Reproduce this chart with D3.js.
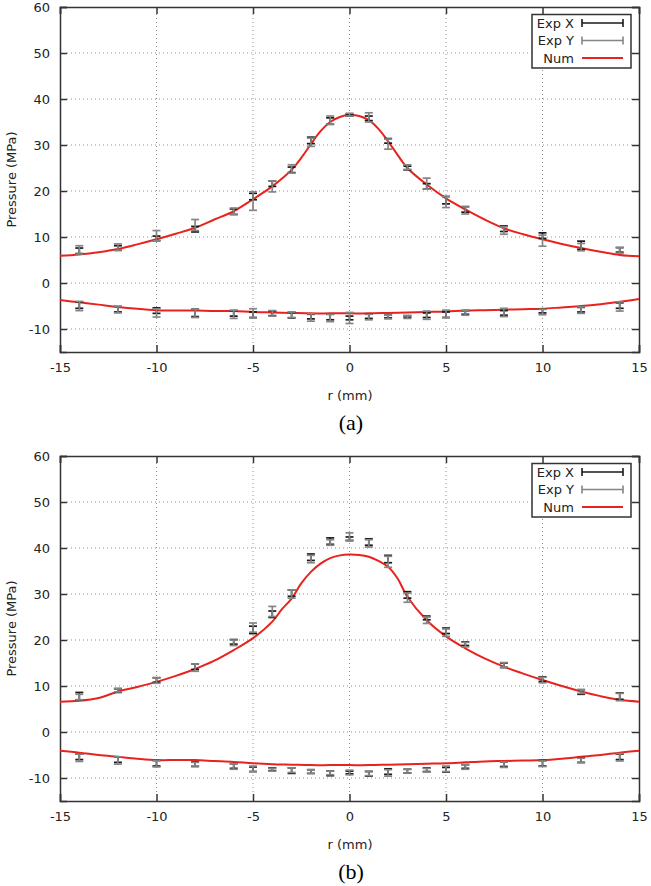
<!DOCTYPE html>
<html>
<head>
<meta charset="utf-8">
<script src="https://cdn.jsdelivr.net/npm/d3@7"></script>
<style>
  html, body { margin: 0; padding: 0; background: #fff; }
  svg { display: block; }
  text { font-family: "DejaVu Sans", sans-serif; }
</style>
</head>
<body>
<svg id="chart" width="651" height="886"></svg>
<script>
// ---------- DATA ----------
const xTicks = [-15, -10, -5, 0, 5, 10, 15];
const yTicks = [-10, 0, 10, 20, 30, 40, 50, 60];
const legendLabels = ["Exp X", "Exp Y", "Num"];
const panelLabels = ["(a)", "(b)"];

const expR = [-14, -12, -10, -8, -6, -5, -4, -3, -2, -1, 0, 1, 2, 3, 4, 5, 6, 8, 10, 12, 14];

// Panel (a)
const aUpX    = [7.0, 7.6, 9.7, 11.7, 15.5, 18.8, 21.6, 24.6, 31.0, 35.2, 36.5, 35.8, 30.9, 25.0, 21.0, 18.0, 16.0, 11.8, 10.3, 8.2, 7.2];
const aUpXErr = [0.6, 0.5, 0.5, 0.6, 0.6, 0.7, 0.6, 0.6, 0.7, 0.7, 0.2, 0.5, 0.5, 0.4, 0.6, 0.8, 0.6, 0.6, 0.6, 0.9, 0.5];
const aUpY    = [7.2, 7.8, 10.3, 12.6, 15.6, 17.8, 21.0, 24.8, 30.6, 35.4, 36.6, 36.0, 30.2, 25.2, 21.6, 17.6, 15.8, 11.4, 9.2, 7.8, 7.1];
const aUpYErr = [0.9, 0.7, 1.1, 1.2, 0.7, 2.0, 1.2, 0.9, 0.9, 0.9, 0.3, 1.0, 1.1, 0.5, 1.2, 1.2, 0.8, 0.8, 1.2, 0.8, 0.6];
const aLoX    = [-4.8, -5.7, -6.0, -6.5, -6.6, -6.9, -6.6, -7.0, -7.3, -7.4, -7.6, -7.2, -7.3, -7.3, -7.0, -6.9, -6.4, -6.5, -6.1, -5.8, -4.9];
const aLoXErr = [0.7, 0.6, 0.6, 0.8, 0.6, 0.6, 0.5, 0.6, 0.5, 0.6, 0.4, 0.5, 0.3, 0.2, 0.5, 0.6, 0.4, 0.5, 0.4, 0.5, 0.6];
const aLoY    = [-5.0, -5.8, -6.5, -6.6, -6.8, -6.6, -6.6, -6.9, -7.5, -7.6, -7.6, -7.4, -7.4, -7.4, -7.0, -6.7, -6.5, -6.4, -6.3, -5.9, -5.1];
const aLoYErr = [1.0, 0.7, 0.9, 0.9, 0.9, 1.0, 0.6, 0.6, 0.8, 0.8, 1.2, 0.6, 0.4, 0.3, 0.9, 0.8, 0.5, 0.9, 0.6, 0.7, 1.0];

const numRUp = [-15, -14, -13, -12, -11, -10, -9, -8, -7, -6, -5, -4, -3.5, -3, -2.5, -2, -1.5, -1, -0.5, 0, 0.5, 1, 1.5, 2, 2.5, 3, 4, 5, 6, 7, 8, 9, 10, 11, 12, 13, 14, 15];
const aNumUp = [5.9, 6.2, 6.7, 7.4, 8.4, 9.5, 10.7, 12.0, 13.8, 15.6, 18.2, 21.0, 22.7, 24.6, 27.2, 30.2, 33.0, 35.0, 36.1, 36.5, 36.3, 35.4, 33.5, 30.8, 27.8, 25.0, 21.4, 18.4, 16.0, 13.8, 11.9, 10.6, 9.5, 8.5, 7.6, 6.8, 6.1, 5.8];
const numRLo = [-15, -14, -13, -12, -11, -10, -9, -8, -7, -6, -5, -4, -3, -2, -1, 0, 1, 2, 3, 4, 5, 6, 7, 8, 9, 10, 11, 12, 13, 14, 15];
const aNumLo = [-3.7, -4.2, -4.7, -5.2, -5.6, -5.9, -6.0, -6.0, -6.1, -6.1, -6.3, -6.4, -6.5, -6.6, -6.6, -6.6, -6.6, -6.5, -6.4, -6.3, -6.2, -6.0, -5.9, -5.8, -5.7, -5.6, -5.3, -5.0, -4.6, -4.1, -3.5];

// Panel (b)
const bUpX    = [7.8, 9.0, 11.3, 14.2, 19.6, 22.2, 25.6, 30.2, 38.0, 41.5, 42.0, 41.3, 37.6, 29.8, 24.8, 22.0, 19.2, 14.5, 11.5, 8.7, 7.8];
const bUpXErr = [0.8, 0.4, 0.5, 0.6, 0.5, 0.8, 0.7, 0.7, 0.7, 0.7, 0.4, 0.7, 0.8, 0.7, 0.4, 0.6, 0.4, 0.5, 0.5, 0.5, 0.7];
const bUpY    = [7.6, 9.1, 11.2, 14.0, 19.4, 22.7, 26.2, 30.0, 37.6, 41.2, 42.5, 41.0, 37.0, 29.2, 24.3, 21.6, 19.0, 14.6, 11.3, 8.8, 7.6];
const bUpYErr = [0.6, 0.4, 0.6, 0.8, 0.6, 1.0, 1.1, 0.9, 0.8, 0.6, 0.8, 0.8, 1.2, 1.0, 0.7, 0.8, 0.5, 0.5, 0.6, 0.4, 0.8];
const bLoX    = [-5.4, -6.0, -6.8, -7.0, -7.4, -8.1, -8.1, -8.4, -8.6, -9.0, -8.8, -9.1, -8.6, -8.5, -8.2, -8.2, -7.5, -7.0, -6.8, -6.1, -5.4];
const bLoXErr = [0.6, 0.6, 0.6, 0.5, 0.5, 0.5, 0.3, 0.6, 0.4, 0.5, 0.3, 0.5, 0.6, 0.4, 0.4, 0.5, 0.4, 0.5, 0.6, 0.5, 0.6];
const bLoY    = [-5.6, -6.2, -6.9, -7.0, -7.5, -8.0, -8.2, -8.3, -8.6, -8.9, -8.8, -9.0, -8.9, -8.5, -8.3, -8.0, -7.6, -7.1, -6.9, -6.2, -5.5];
const bLoYErr = [0.8, 0.8, 0.7, 0.4, 0.6, 0.6, 0.3, 0.5, 0.4, 0.4, 0.5, 0.5, 0.7, 0.4, 0.4, 0.6, 0.5, 0.6, 0.6, 0.5, 0.8];

const bNumUp = [6.6, 6.8, 7.4, 8.8, 9.8, 10.9, 12.2, 13.7, 15.5, 17.8, 20.4, 24.0, 26.7, 29.0, 32.3, 34.8, 36.6, 37.8, 38.4, 38.6, 38.5, 38.1, 37.2, 35.9, 33.3, 29.4, 24.3, 20.8, 18.2, 16.0, 14.2, 12.7, 11.3, 10.0, 8.8, 7.8, 7.0, 6.6];
const bNumLo = [-4.1, -4.5, -5.0, -5.4, -5.8, -6.1, -6.1, -6.1, -6.3, -6.5, -6.8, -7.0, -7.1, -7.2, -7.2, -7.2, -7.2, -7.1, -7.0, -6.9, -6.8, -6.6, -6.4, -6.3, -6.2, -6.1, -5.8, -5.4, -5.0, -4.5, -4.1];

// ---------- DRAW ----------
const svg = d3.select("#chart");
svg.append("rect").attr("width", 651).attr("height", 886).attr("fill", "#fff");

const C_X = "#1a1a1a", C_Y = "#858585", C_NUM = "#e8231f", C_AX = "#333";
const FS = "13px";
const fmt = v => String(v);

function panel(top, label, d) {
  const left = 60, right = 639, bottom = top + 345;
  const x = d3.scaleLinear().domain([-15, 15]).range([left, right]);
  const y = d3.scaleLinear().domain([-15, 60]).range([bottom, top]);
  const g = svg.append("g");

  // grid
  const tickLen = 7;
  g.selectAll(".gx").data(xTicks.filter(v => v > -15 && v < 15)).join("line")
    .attr("x1", v => x(v)).attr("x2", v => x(v))
    .attr("y1", top + tickLen).attr("y2", bottom - tickLen)
    .attr("stroke", "#8f8f8f").attr("stroke-width", 1).attr("stroke-dasharray", "1,3");
  g.selectAll(".gy").data(yTicks.filter(v => v < 60)).join("line")
    .attr("x1", left + tickLen).attr("x2", right - tickLen)
    .attr("y1", v => y(v)).attr("y2", v => y(v))
    .attr("stroke", "#8f8f8f").attr("stroke-width", 1).attr("stroke-dasharray", "1,3");

  // axes (inward ticks, mirrored)
  const axB = d3.axisBottom(x).tickValues(xTicks).tickSize(-tickLen).tickPadding(11).tickFormat(fmt);
  const axT = d3.axisTop(x).tickValues(xTicks).tickSize(-tickLen).tickFormat("");
  const axL = d3.axisLeft(y).tickValues(yTicks).tickSize(-tickLen).tickPadding(10).tickFormat(fmt);
  const axR = d3.axisRight(y).tickValues(yTicks).tickSize(-tickLen).tickFormat("");
  [[axB, `translate(0,${bottom})`], [axT, `translate(0,${top})`],
   [axL, `translate(${left},0)`], [axR, `translate(${right},0)`]].forEach(([ax, tr]) => {
    const a = g.append("g").attr("transform", tr).call(ax);
    a.select(".domain").attr("stroke", C_AX).attr("stroke-width", 1.5);
    a.selectAll(".tick line").attr("stroke", C_AX).attr("stroke-width", 1.5);
    a.selectAll(".tick text").attr("fill", "#222").style("font-size", FS)
      .style("font-family", "DejaVu Sans, sans-serif");
  });

  // Num lines
  const line = d3.line().x(p => x(p[0])).y(p => y(p[1])).curve(d3.curveCatmullRom.alpha(0.5));
  g.append("path").datum(numRUp.map((r, i) => [r, d.numUp[i]])).attr("d", line)
    .attr("fill", "none").attr("stroke", C_NUM).attr("stroke-width", 2);
  g.append("path").datum(numRLo.map((r, i) => [r, d.numLo[i]])).attr("d", line)
    .attr("fill", "none").attr("stroke", C_NUM).attr("stroke-width", 2);

  // error bars
  function errBars(vals, errs, color) {
    const data = expR.map((r, i) => ({ r, v: vals[i], e: errs[i] }));
    const eg = g.append("g").attr("stroke", color).attr("stroke-width", 1.7);
    const cap = 4;
    eg.selectAll(".v").data(data).join("line")
      .attr("x1", p => x(p.r)).attr("x2", p => x(p.r))
      .attr("y1", p => y(p.v - p.e)).attr("y2", p => y(p.v + p.e));
    eg.selectAll(".t").data(data).join("line")
      .attr("x1", p => x(p.r) - cap).attr("x2", p => x(p.r) + cap)
      .attr("y1", p => y(p.v + p.e)).attr("y2", p => y(p.v + p.e));
    eg.selectAll(".b").data(data).join("line")
      .attr("x1", p => x(p.r) - cap).attr("x2", p => x(p.r) + cap)
      .attr("y1", p => y(p.v - p.e)).attr("y2", p => y(p.v - p.e));
  }
  errBars(d.upX, d.upXErr, C_X);
  errBars(d.loX, d.loXErr, C_X);
  errBars(d.upY, d.upYErr, C_Y);
  errBars(d.loY, d.loYErr, C_Y);

  // legend
  const lg = g.append("g");
  lg.append("rect").attr("x", 532).attr("y", top + 7.5).attr("width", 99).attr("height", 53.5)
    .attr("fill", "#fff").attr("stroke", C_AX).attr("stroke-width", 1.5);
  const colors = [C_X, C_Y, C_NUM];
  legendLabels.forEach((t, i) => {
    const cy = top + 16 + i * 17.5;
    lg.append("text").attr("x", 574).attr("y", cy).attr("dy", "0.35em")
      .attr("text-anchor", "end").attr("fill", "#222").style("font-size", FS).text(t);
    lg.append("line").attr("x1", 582).attr("x2", 623).attr("y1", cy).attr("y2", cy)
      .attr("stroke", colors[i]).attr("stroke-width", i === 2 ? 2 : 1.6);
    if (i < 2) {
      [582, 623].forEach(xx => lg.append("line").attr("x1", xx).attr("x2", xx)
        .attr("y1", cy - 4).attr("y2", cy + 4).attr("stroke", colors[i]).attr("stroke-width", 1.6));
    }
  });

  // axis titles
  g.append("text").attr("transform", `translate(11,${(top + bottom) / 2}) rotate(-90)`)
    .attr("text-anchor", "middle").attr("dy", "0.35em").attr("fill", "#222")
    .style("font-size", FS).text("Pressure (MPa)");
  g.append("text").attr("x", 350).attr("y", bottom + 43).attr("dy", "0.35em")
    .attr("text-anchor", "middle").attr("fill", "#222").style("font-size", FS).text("r (mm)");
  g.append("text").attr("x", 351).attr("y", bottom + 70).attr("dy", "0.35em")
    .attr("text-anchor", "middle").attr("fill", "#000")
    .style("font-family", "Liberation Serif, serif").style("font-size", "22px").text(label);
}

panel(7, panelLabels[0], {
  upX: aUpX, upXErr: aUpXErr, upY: aUpY, upYErr: aUpYErr,
  loX: aLoX, loXErr: aLoXErr, loY: aLoY, loYErr: aLoYErr,
  numUp: aNumUp, numLo: aNumLo
});
panel(456, panelLabels[1], {
  upX: bUpX, upXErr: bUpXErr, upY: bUpY, upYErr: bUpYErr,
  loX: bLoX, loXErr: bLoXErr, loY: bLoY, loYErr: bLoYErr,
  numUp: bNumUp, numLo: bNumLo
});
</script>
</body>
</html>
